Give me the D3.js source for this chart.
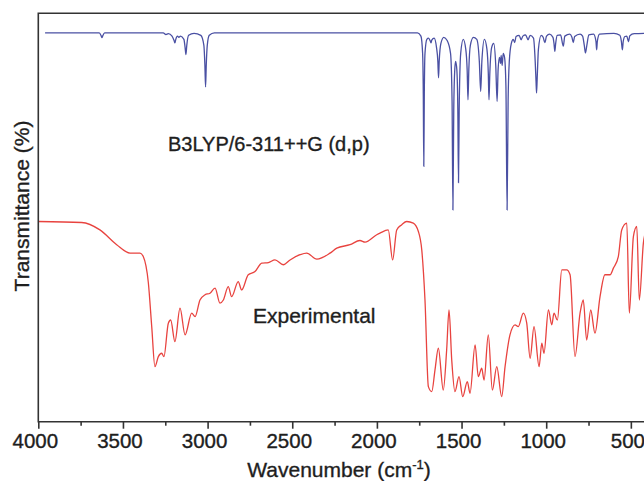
<!DOCTYPE html>
<html>
<head>
<meta charset="utf-8">
<script src="https://cdn.jsdelivr.net/npm/d3@7"></script>
<style>
  body { margin: 0; background: #fff; }
  text { font-family: Arial, "Liberation Sans", sans-serif; fill: #1e1e1e; stroke: #1e1e1e; stroke-width: 0.35px; }
</style>
</head>
<body>
<svg id="ir" width="644" height="481"></svg>
<script>
// wavenumber (cm-1), transmittance (arbitrary %)
var calcSpectrum = [
  [3960, 97.1], [3640, 97.1], [3628, 96.3], [3624, 95.9], [3620, 96.3], [3608, 97.1],
  [3262, 97.1], [3246, 96.7], [3232, 96.9], [3210, 96.3], [3198, 95.2], [3193, 94.6],
  [3188, 95.5], [3178, 96.3], [3170, 96.0], [3160, 96.3], [3140, 95.5], [3133, 93.5],
  [3128, 91.7], [3123, 94.0], [3112, 96.5], [3080, 97.0], [3040, 96.5], [3022, 94.0],
  [3016, 89.0], [3012, 83.6], [3008, 89.0], [3002, 94.0], [2990, 96.5], [2960, 97.1],
  [1760, 97.1], [1740, 96.3], [1730, 92.0], [1726, 82.0], [1723, 63.8], [1720, 82.0],
  [1716, 92.0], [1705, 95.5], [1695, 95.8], [1684, 95.0], [1680, 94.6], [1676, 95.3],
  [1662, 95.8], [1648, 93.5], [1640, 90.0], [1636, 85.9], [1632, 90.0], [1622, 94.5],
  [1605, 96.0], [1585, 95.2], [1565, 92.0], [1556, 80.0], [1551, 52.9], [1546, 78.0],
  [1540, 88.0], [1535, 90.0], [1528, 88.0], [1522, 78.0], [1518, 59.7], [1514, 78.0],
  [1505, 92.0], [1490, 95.5], [1475, 93.0], [1467, 88.0], [1462, 80.4], [1457, 88.0],
  [1448, 94.0], [1430, 96.0], [1410, 95.5], [1395, 90.0], [1387, 82.5], [1380, 90.0],
  [1365, 95.5], [1350, 93.0], [1342, 87.0], [1338, 80.4], [1333, 87.0], [1322, 93.5],
  [1310, 94.5], [1298, 89.0], [1290, 80.0], [1284, 88.0], [1276, 91.0], [1270, 89.5],
  [1266, 91.5], [1260, 89.0], [1254, 92.0], [1246, 91.0], [1238, 84.0], [1231, 52.9],
  [1225, 80.0], [1218, 90.0], [1206, 94.5], [1195, 95.5], [1186, 94.7], [1178, 96.2],
  [1160, 96.5], [1148, 95.4], [1138, 96.3], [1122, 96.6], [1107, 95.4], [1095, 96.5],
  [1075, 95.8], [1065, 90.0], [1060, 85.0], [1057, 82.1], [1053, 86.0], [1046, 93.0],
  [1030, 96.5], [1018, 96.0], [1008, 94.7], [998, 96.3], [980, 96.8], [960, 96.0],
  [954, 94.5], [949, 92.5], [944, 94.5], [935, 96.5], [915, 96.6], [899, 93.8],
  [890, 96.3], [860, 96.8], [848, 96.0], [840, 94.7], [832, 96.2], [800, 96.8],
  [785, 96.3], [775, 94.0], [768, 92.1], [760, 94.0], [748, 96.6], [720, 96.8],
  [706, 95.0], [702, 92.9], [698, 95.0], [685, 96.8], [600, 97.0], [565, 96.5],
  [556, 95.0], [550, 92.9], [545, 95.0], [535, 96.2], [524, 96.3], [514, 94.9],
  [506, 96.4], [480, 96.9], [400, 97.0]
];

var exptSpectrum = [
  [4000, 50.0], [3744, 49.75], [3636, 47.9], [3537, 44.2], [3458, 42.1], [3399, 42.1],
  [3380, 41.25], [3350, 34.7], [3330, 23.75], [3311, 13.75], [3291, 16.25], [3271, 17.1],
  [3258, 16.25], [3232, 24.6], [3218, 25.4], [3193, 20.0], [3163, 28.35], [3133, 21.7],
  [3094, 27.1], [3074, 26.25], [3045, 30.4], [3015, 31.7], [2986, 32.1], [2956, 33.35],
  [2927, 29.6], [2907, 30.4], [2878, 33.75], [2858, 31.25], [2819, 35.0], [2799, 32.9],
  [2760, 36.7], [2720, 37.5], [2680, 39.6], [2641, 39.75], [2602, 40.4], [2553, 39.2],
  [2513, 40.4], [2454, 41.7], [2415, 42.1], [2355, 40.6], [2277, 42.1], [2237, 43.35],
  [2159, 44.2], [2100, 45.25], [2070, 44.85], [2001, 46.7], [1982, 47.1], [1933, 47.9],
  [1907, 40.4], [1883, 47.9], [1853, 49.2], [1824, 50.0], [1785, 49.6], [1755, 47.5],
  [1735, 42.9], [1716, 30.4], [1696, 8.75], [1676, 7.5], [1657, 12.9], [1637, 18.35],
  [1608, 7.9], [1588, 17.9], [1574, 27.9], [1558, 15.4], [1539, 7.5], [1515, 11.25],
  [1493, 6.25], [1466, 10.0], [1450, 7.1], [1420, 19.2], [1401, 11.25], [1381, 13.35],
  [1367, 10.4], [1342, 21.7], [1318, 7.9], [1292, 13.75], [1263, 6.25], [1243, 13.75],
  [1214, 21.7], [1184, 24.2], [1165, 23.75], [1135, 27.1], [1115, 24.6], [1095, 15.85],
  [1072, 23.75], [1042, 13.75], [1026, 19.6], [1013, 17.1], [987, 27.9], [967, 24.2],
  [954, 27.1], [934, 25.4], [908, 37.9], [879, 37.9], [859, 36.7], [830, 16.25],
  [800, 27.1], [781, 30.4], [761, 20.4], [737, 27.9], [712, 22.1], [682, 31.25],
  [653, 36.7], [623, 36.7], [603, 38.35], [574, 41.25], [554, 47.9], [524, 49.6],
  [509, 27.1], [485, 46.25], [465, 48.75], [450, 30.4], [426, 44.6], [410, 47.9]
];

var majorTicks = [4000, 3500, 3000, 2500, 2000, 1500, 1000, 500];
var minorTicks = [3750, 3250, 2750, 2250, 1750, 1250, 750];

var svg = d3.select("#ir"),
    margin = { top: 13.3, left: 38.3 },
    height = 408.4;

var x = d3.scaleLinear()
    .domain([4000, 400])
    .range([margin.left, margin.left + 3600 * 0.1693]);

var y = d3.scaleLinear()
    .domain([0, 102])
    .range([margin.top + height, margin.top]);

var line = d3.line()
    .x(function(d) { return x(d[0]); })
    .y(function(d) { return y(d[1]); })
    .curve(d3.curveMonotoneX);

svg.append("rect")
    .attr("width", 644).attr("height", 481)
    .attr("fill", "#fff");

svg.append("path")
    .datum(calcSpectrum)
    .attr("d", line)
    .attr("fill", "none")
    .attr("stroke", "#4a50a3")
    .attr("stroke-width", 1.3);

svg.append("path")
    .datum(exptSpectrum)
    .attr("d", line)
    .attr("fill", "none")
    .attr("stroke", "#e8433f")
    .attr("stroke-width", 1.3);

// frame (right edge is off the picture)
svg.append("path")
    .attr("d", "M" + 660 + "," + y(102) + "H" + x(4000) + "V" + y(0) + "H" + 660)
    .attr("fill", "none")
    .attr("stroke", "#333")
    .attr("stroke-width", 1.6);

var xAxis = svg.append("g")
    .attr("transform", "translate(0," + y(0) + ")")
    .call(d3.axisBottom(x).tickValues(majorTicks).tickSize(7).tickPadding(5).tickFormat(d3.format("d")));
xAxis.select(".domain").remove();
xAxis.selectAll("line").attr("stroke", "#333").attr("stroke-width", 1.6);
xAxis.selectAll("text")
    .attr("font-size", 20.5)
    .attr("dx", -3.5)
    .attr("font-family", "Arial, 'Liberation Sans', sans-serif")
    .attr("fill", "#1e1e1e");

var minor = svg.append("g")
    .attr("transform", "translate(0," + y(0) + ")")
    .call(d3.axisBottom(x).tickValues(minorTicks).tickSize(4).tickFormat(""));
minor.select(".domain").remove();
minor.selectAll("line").attr("stroke", "#333").attr("stroke-width", 1.6);

// labels
svg.append("text")
    .attr("x", x(3234)).attr("y", y(67.7))
    .attr("font-size", 20)
    .text("B3LYP/6-311++G (d,p)");

svg.append("text")
    .attr("x", x(2732)).attr("y", y(24.7))
    .attr("font-size", 21)
    .text("Experimental");

var xTitle = svg.append("text")
    .attr("x", 339).attr("y", 477)
    .attr("text-anchor", "middle")
    .attr("font-size", 21);
xTitle.append("tspan").text("Wavenumber (cm");
xTitle.append("tspan").attr("font-size", 13).attr("dy", -8).text("-1");
xTitle.append("tspan").attr("dy", 8).text(")");

svg.append("text")
    .attr("transform", "translate(29," + 206 + ") rotate(-90)")
    .attr("text-anchor", "middle")
    .attr("font-size", 21)
    .text("Transmittance (%)");
</script>
</body>
</html>
